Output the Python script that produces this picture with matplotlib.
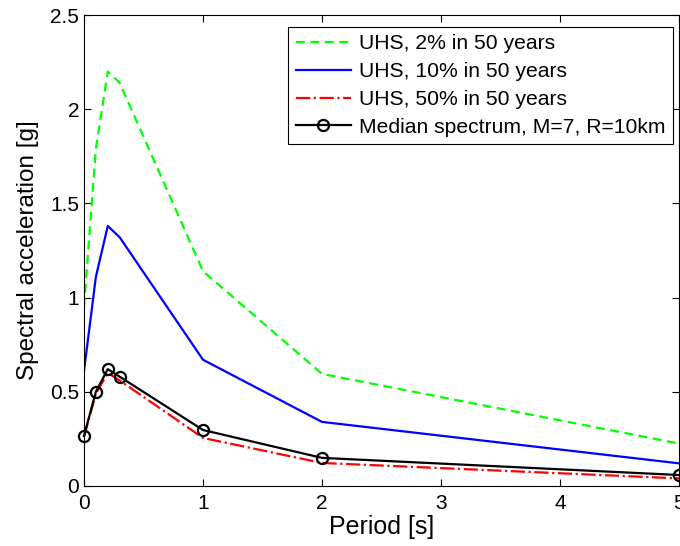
import matplotlib
matplotlib.use('Agg')
import matplotlib.pyplot as plt

periods = [0, 0.1, 0.2, 0.3, 1, 2, 5]
uhs_2 = [0.95, 1.79, 2.20, 2.14, 1.14, 0.595, 0.225]
uhs_10 = [0.61, 1.11, 1.38, 1.32, 0.67, 0.34, 0.12]
uhs_50 = [0.26, 0.49, 0.60, 0.56, 0.255, 0.122, 0.04]
median = [0.265, 0.50, 0.62, 0.58, 0.297, 0.149, 0.058]

plt.rcParams['font.family'] = ['Liberation Sans', 'DejaVu Sans']

fig = plt.figure(figsize=(6.8, 5.46), dpi=100)
ax = fig.add_axes([0.1235, 0.110, 0.875, 0.8625])

ax.plot(periods, uhs_2, '--', color='#00ff00', lw=1.6, dashes=(4, 2.5), label='UHS, 2% in 50 years')
ax.plot(periods, uhs_10, '-', color='#0000ff', lw=1.6, label='UHS, 10% in 50 years')
ax.plot(periods, uhs_50, '-.', color='#ff0000', lw=1.6, label='UHS, 50% in 50 years')
ax.plot(periods, median, '-o', color='k', lw=1.6, markersize=8, markerfacecolor='none',
        markeredgewidth=1.6, label='Median spectrum, M=7, R=10km', clip_on=False, zorder=5)

ax.set_xlim(0, 5)
ax.set_ylim(0, 2.5)
ax.set_xticks([0, 1, 2, 3, 4, 5])
ax.set_yticks([0, 0.5, 1, 1.5, 2, 2.5])
ax.set_yticklabels(['0', '0.5', '1', '1.5', '2', '2.5'])
ax.tick_params(direction='in', top=True, right=True, labelsize=15, length=5, width=0.8)
ax.tick_params(axis='x', pad=6)
ax.set_xlabel('Period [s]', fontsize=18, labelpad=1)
ax.set_ylabel('Spectral acceleration [g]', fontsize=17.5, labelpad=8)
for s in ax.spines.values():
    s.set_linewidth(0.8)

leg = ax.legend(loc='upper right', bbox_to_anchor=(0.99, 0.975), fontsize=15.2,
                fancybox=False, framealpha=1, edgecolor='k', borderpad=0.35,
                labelspacing=0.42, handlelength=2.6, handletextpad=0.4, borderaxespad=0)
leg.get_frame().set_linewidth(0.8)

fig.savefig('out.png', dpi=100)
